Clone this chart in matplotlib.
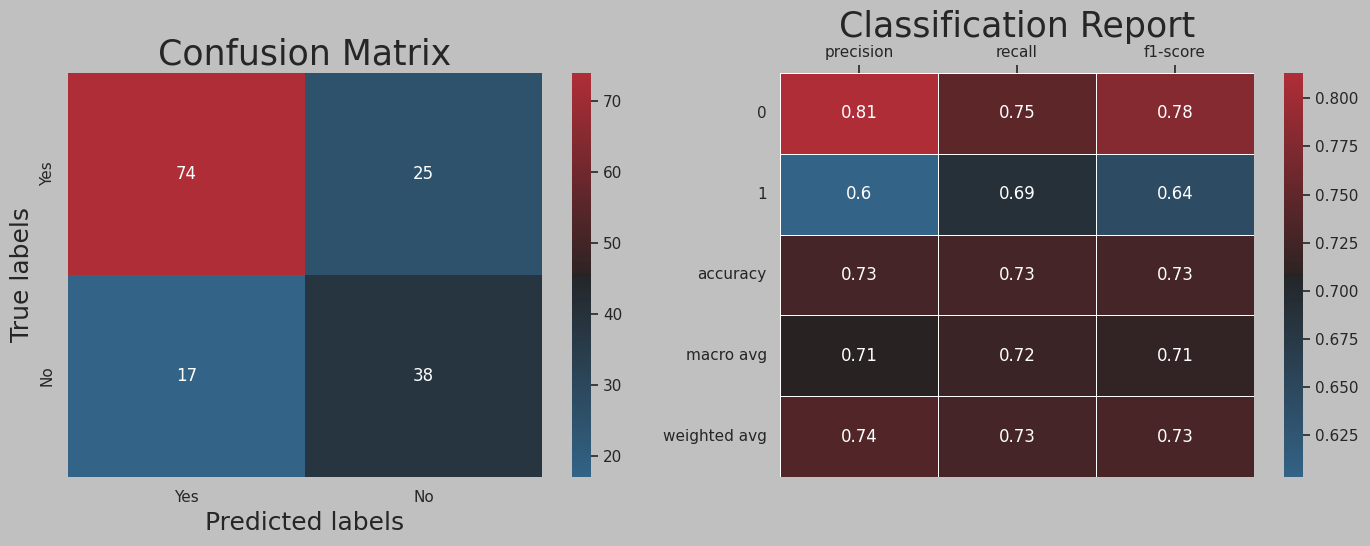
import matplotlib
matplotlib.use('Agg')

import matplotlib.pyplot as plt
import numpy as np
import pandas as pd
import seaborn as sns

sns.set_theme(style='white', context='notebook')
plt.rcParams['font.family'] = ['DejaVu Sans']

cm_labels = ['Yes', 'No']
cm_values = [[74, 25],
             [17, 38]]

report_rows = ['0', '1', 'accuracy', 'macro avg', 'weighted avg']
report_cols = ['precision', 'recall', 'f1-score']
precision = [0.8132, 0.6032, 0.7273, 0.7082, 0.7382]
recall = [0.7475, 0.6909, 0.7273, 0.7192, 0.7273]
f1_score = [0.7789, 0.6441, 0.7273, 0.7115, 0.7308]

cmap = sns.diverging_palette(240, 10, l=40, center='dark', as_cmap=True)

W, H = 1370, 546
fig = plt.figure(figsize=(W / 100, H / 100), dpi=100, facecolor='silver')

def box(x0, y0, x1, y1):
    return [x0 / W, 1 - y1 / H, (x1 - x0) / W, (y1 - y0) / H]

# confusion matrix
ax1 = fig.add_axes(box(68, 73, 542, 477))
cax1 = fig.add_axes(box(572, 73, 591, 477))
sns.heatmap(np.array(cm_values), annot=True, fmt='d', cmap=cmap, ax=ax1, cbar_ax=cax1,
            xticklabels=cm_labels, yticklabels=cm_labels, annot_kws={'size': 12})
ax1.set_title('Confusion Matrix', fontsize=25)
ax1.set_xlabel('Predicted labels', fontsize=18)
ax1.set_ylabel('True labels', fontsize=18)
cax1.tick_params(length=5, width=1.2, color='.15')

# classification report
df = pd.DataFrame({'precision': precision, 'recall': recall, 'f1-score': f1_score},
                  index=report_rows)[report_cols]
ax2 = fig.add_axes(box(780, 73, 1254, 477))
cax2 = fig.add_axes(box(1284, 73, 1303, 477))
sns.heatmap(df, annot=True, fmt='.2g', cmap=cmap, ax=ax2, cbar_ax=cax2,
            linewidths=0.5, linecolor='white', annot_kws={'size': 12})
ax2.xaxis.tick_top()
ax2.tick_params(axis='x', length=6, width=1.2, color='.15')
ax2.tick_params(axis='y', rotation=0)
ax2.set_title('Classification Report', fontsize=25, y=1.088, pad=0)
cax2.tick_params(length=5, width=1.2, color='.15')

fig.savefig('out.png', facecolor=fig.get_facecolor())
